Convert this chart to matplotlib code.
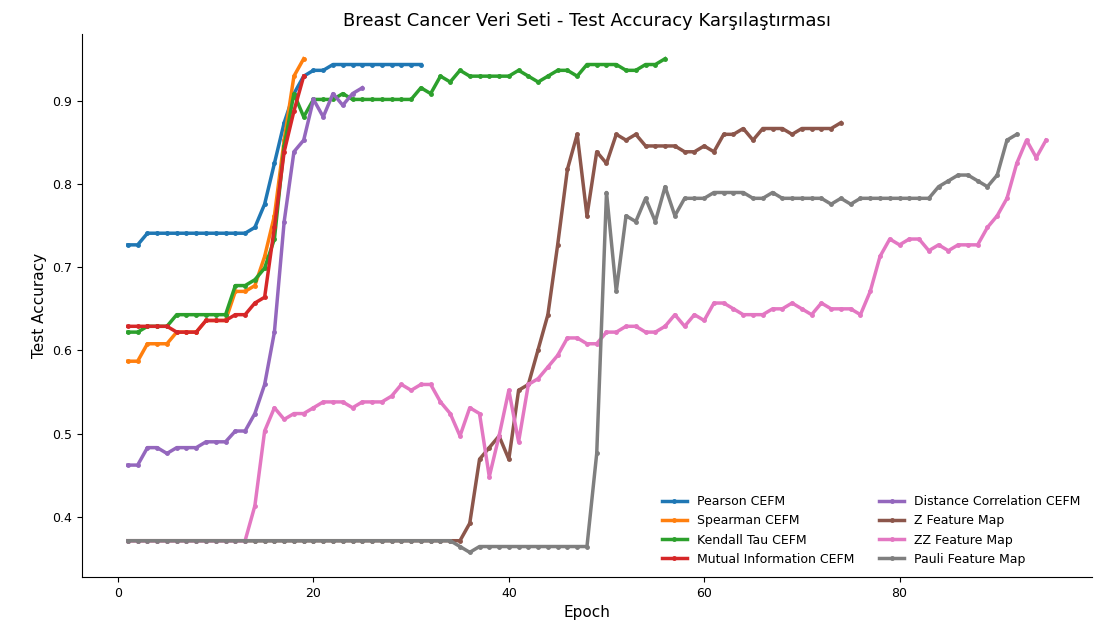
# Breast Cancer test accuracy per epoch for the 8 feature maps

import numpy as np
import matplotlib
matplotlib.use('Agg')
import matplotlib.pyplot as plt

# values (epoch 1..n)
pearson = [0.727, 0.727, 0.741, 0.741, 0.741, 0.741, 0.741, 0.741, 0.741, 0.741,
           0.741, 0.741, 0.741, 0.748, 0.776, 0.825, 0.874, 0.909, 0.930, 0.937,
           0.937, 0.944, 0.944, 0.944, 0.944, 0.944, 0.944, 0.944, 0.944, 0.944,
           0.944]
spearman = [0.587, 0.587, 0.608, 0.608, 0.608, 0.622, 0.622, 0.622, 0.636, 0.636,
            0.636, 0.671, 0.671, 0.678, 0.713, 0.762, 0.853, 0.930, 0.951]
kendall = [0.622, 0.622, 0.629, 0.629, 0.629, 0.643, 0.643, 0.643, 0.643, 0.643,
           0.643, 0.678, 0.678, 0.685, 0.699, 0.734, 0.846, 0.909, 0.881, 0.902,
           0.902, 0.902, 0.909, 0.902, 0.902, 0.902, 0.902, 0.902, 0.902, 0.902,
           0.916, 0.909, 0.930, 0.923, 0.937, 0.930, 0.930, 0.930, 0.930, 0.930,
           0.937, 0.930, 0.923, 0.930, 0.937, 0.937, 0.930, 0.944, 0.944, 0.944,
           0.944, 0.937, 0.937, 0.944, 0.944, 0.951]
mutual = [0.629, 0.629, 0.629, 0.629, 0.629, 0.622, 0.622, 0.622, 0.636, 0.636,
          0.636, 0.643, 0.643, 0.657, 0.664, 0.748, 0.839, 0.888, 0.930]
distance = [0.462, 0.462, 0.483, 0.483, 0.476, 0.483, 0.483, 0.483, 0.490, 0.490,
            0.490, 0.503, 0.503, 0.524, 0.559, 0.622, 0.755, 0.839, 0.853, 0.902,
            0.881, 0.909, 0.895, 0.909, 0.916]
z_map = [0.371, 0.371, 0.371, 0.371, 0.371, 0.371, 0.371, 0.371, 0.371, 0.371,
         0.371, 0.371, 0.371, 0.371, 0.371, 0.371, 0.371, 0.371, 0.371, 0.371,
         0.371, 0.371, 0.371, 0.371, 0.371, 0.371, 0.371, 0.371, 0.371, 0.371,
         0.371, 0.371, 0.371, 0.371, 0.371, 0.392, 0.469, 0.483, 0.497, 0.469,
         0.552, 0.559, 0.601, 0.643, 0.727, 0.818, 0.860, 0.762, 0.839, 0.825,
         0.860, 0.853, 0.860, 0.846, 0.846, 0.846, 0.846, 0.839, 0.839, 0.846,
         0.839, 0.860, 0.860, 0.867, 0.853, 0.867, 0.867, 0.867, 0.860, 0.867,
         0.867, 0.867, 0.867, 0.874]
zz_map = [0.371, 0.371, 0.371, 0.371, 0.371, 0.371, 0.371, 0.371, 0.371, 0.371,
          0.371, 0.371, 0.371, 0.413, 0.503, 0.531, 0.517, 0.524, 0.524, 0.531,
          0.538, 0.538, 0.538, 0.531, 0.538, 0.538, 0.538, 0.545, 0.559, 0.552,
          0.559, 0.559, 0.538, 0.524, 0.497, 0.531, 0.524, 0.448, 0.497, 0.552,
          0.490, 0.559, 0.566, 0.580, 0.594, 0.615, 0.615, 0.608, 0.608, 0.622,
          0.622, 0.629, 0.629, 0.622, 0.622, 0.629, 0.643, 0.629, 0.643, 0.636,
          0.657, 0.657, 0.650, 0.643, 0.643, 0.643, 0.650, 0.650, 0.657, 0.650,
          0.643, 0.657, 0.650, 0.650, 0.650, 0.643, 0.671, 0.713, 0.734, 0.727,
          0.734, 0.734, 0.720, 0.727, 0.720, 0.727, 0.727, 0.727, 0.748, 0.762,
          0.783, 0.825, 0.853, 0.832, 0.853]
pauli_map = [0.371, 0.371, 0.371, 0.371, 0.371, 0.371, 0.371, 0.371, 0.371, 0.371,
             0.371, 0.371, 0.371, 0.371, 0.371, 0.371, 0.371, 0.371, 0.371, 0.371,
             0.371, 0.371, 0.371, 0.371, 0.371, 0.371, 0.371, 0.371, 0.371, 0.371,
             0.371, 0.371, 0.371, 0.371, 0.364, 0.357, 0.364, 0.364, 0.364, 0.364,
             0.364, 0.364, 0.364, 0.364, 0.364, 0.364, 0.364, 0.364, 0.476, 0.790,
             0.671, 0.762, 0.755, 0.783, 0.755, 0.797, 0.762, 0.783, 0.783, 0.783,
             0.790, 0.790, 0.790, 0.790, 0.783, 0.783, 0.790, 0.783, 0.783, 0.783,
             0.783, 0.783, 0.776, 0.783, 0.776, 0.783, 0.783, 0.783, 0.783, 0.783,
             0.783, 0.783, 0.783, 0.797, 0.804, 0.811, 0.811, 0.804, 0.797, 0.811,
             0.853, 0.860]

series = [
    ('Pearson CEFM', pearson),
    ('Spearman CEFM', spearman),
    ('Kendall Tau CEFM', kendall),
    ('Mutual Information CEFM', mutual),
    ('Distance Correlation CEFM', distance),
    ('Z Feature Map', z_map),
    ('ZZ Feature Map', zz_map),
    ('Pauli Feature Map', pauli_map),
]

fig = plt.figure(figsize=(10.96, 6.22), dpi=100)
ax = fig.add_axes([0.0748, 0.0723, 0.9215, 0.873])

for name, acc in series:
    epochs = np.arange(1, len(acc) + 1)
    ax.plot(epochs, acc, marker='o', markersize=2.5, linewidth=2.5, label=name)

ax.set_title('Breast Cancer Veri Seti - Test Accuracy Karşılaştırması', fontsize=13)
ax.set_xlabel('Epoch', fontsize=11)
ax.set_ylabel('Test Accuracy', fontsize=11)
ax.tick_params(labelsize=9)
ax.set_xticks([0, 20, 40, 60, 80])
ax.spines['top'].set_visible(False)
ax.spines['right'].set_visible(False)
ax.legend(loc='lower right', ncol=2, fontsize=9, frameon=False)

fig.savefig('out.png', dpi=100)
